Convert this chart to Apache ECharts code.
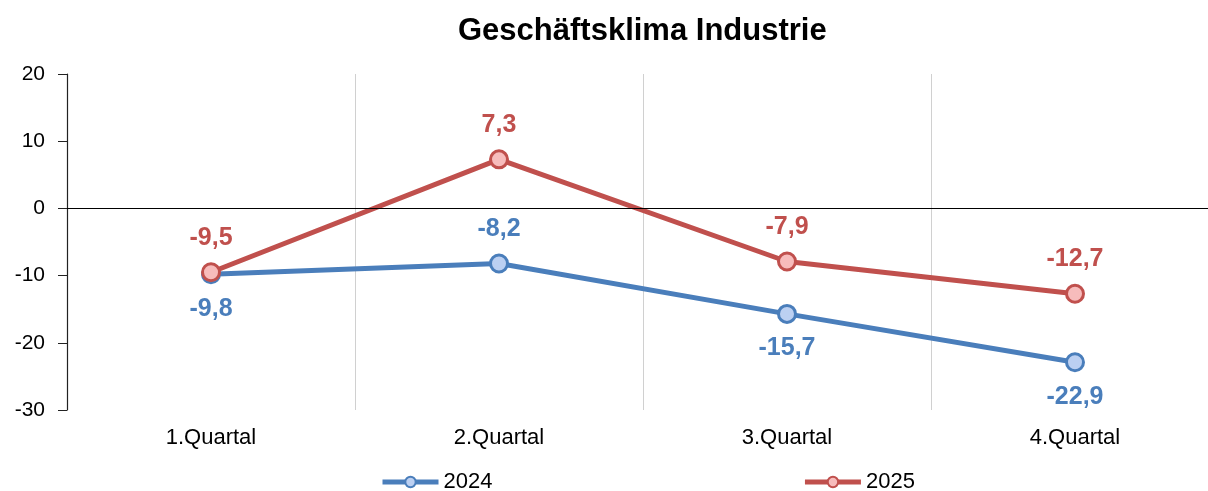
<!DOCTYPE html>
<html>
<head>
<meta charset="utf-8">
<script src="https://cdn.jsdelivr.net/npm/echarts@6/dist/echarts.min.js"></script>
<style>
  html, body { margin: 0; padding: 0; background: #fff; }
  #chart { width: 1208px; height: 491px; }
</style>
</head>
<body>
<div id="chart"></div>
<script>
var quarters = ["1.Quartal", "2.Quartal", "3.Quartal", "4.Quartal"];
var values2024 = [-9.8, -8.2, -15.7, -22.9];
var values2025 = [-9.5, 7.3, -7.9, -12.7];
// label side for the 2024 line (only 2. Quartal is above)
var pos2024 = ["bottom", "top", "bottom", "bottom"];

var fmt = function (v) {
  return String(v).replace(".", ",");
};

var myChart = echarts.init(document.getElementById("chart"));
var option = {
  animation: false,
  textStyle: { fontFamily: "Liberation Sans, Arial, sans-serif" },
  title: {
    text: "Geschäftsklima Industrie",
    left: 453,
    top: 11,
    textStyle: { fontSize: 31, fontWeight: "bold", color: "#000" },
  },
  legend: {
    data: ["2024", "2025"],
    left: 380,
    top: 471,
    padding: 0,
    itemGap: 310,
    itemWidth: 56,
    itemHeight: 13,
    lineStyle: { width: 5 },
    textStyle: { fontSize: 22, color: "#000" },
  },
  grid: { left: 67, right: -11, top: 74, bottom: 81, outerBoundsMode: "none" },
  xAxis: {
    type: "category",
    data: quarters,
    boundaryGap: true,
    axisLine: { show: false, onZero: false },
    axisTick: { show: false },
    axisLabel: { fontSize: 22, color: "#000", margin: 17 },
    splitLine: { show: true, lineStyle: { color: "#d0d0d0", width: 1 } },
  },
  yAxis: {
    type: "value",
    min: -30,
    max: 20,
    interval: 10,
    axisLine: { show: true, lineStyle: { color: "#222", width: 1.2 } },
    axisTick: { show: true, inside: false, length: 9, lineStyle: { color: "#222" } },
    axisLabel: { fontSize: 21, color: "#000", margin: 22 },
    splitLine: { show: false },
  },
  series: [
    {
      name: "2024",
      type: "line",
      data: values2024.map(function (v, i) {
        return { value: v, label: { position: pos2024[i] } };
      }),
      color: "#4a7ebb",
      symbol: "circle",
      symbolSize: 17,
      lineStyle: { width: 5, color: "#4a7ebb" },
      itemStyle: { color: "#bcd0f2", borderColor: "#4a7ebb", borderWidth: 3 },
      label: {
        show: true,
        fontSize: 25,
        fontWeight: "bold",
        color: "#4a7ebb",
        distance: 12,
        formatter: function (d) { return fmt(d.value); },
      },
      markLine: {
        silent: true,
        symbol: "none",
        label: { show: false },
        lineStyle: { color: "#000", width: 1.2, type: "solid" },
        data: [{ yAxis: 0 }],
      },
      z: 3,
    },
    {
      name: "2025",
      type: "line",
      data: values2025,
      color: "#c0504d",
      symbol: "circle",
      symbolSize: 17,
      lineStyle: { width: 5, color: "#c0504d" },
      itemStyle: { color: "#f7bcbc", borderColor: "#c0504d", borderWidth: 3 },
      label: {
        show: true,
        position: "top",
        fontSize: 25,
        fontWeight: "bold",
        color: "#c0504d",
        distance: 12,
        formatter: function (d) { return fmt(d.value); },
      },
      z: 4,
    },
  ],
};
myChart.setOption(option);
</script>
</body>
</html>
